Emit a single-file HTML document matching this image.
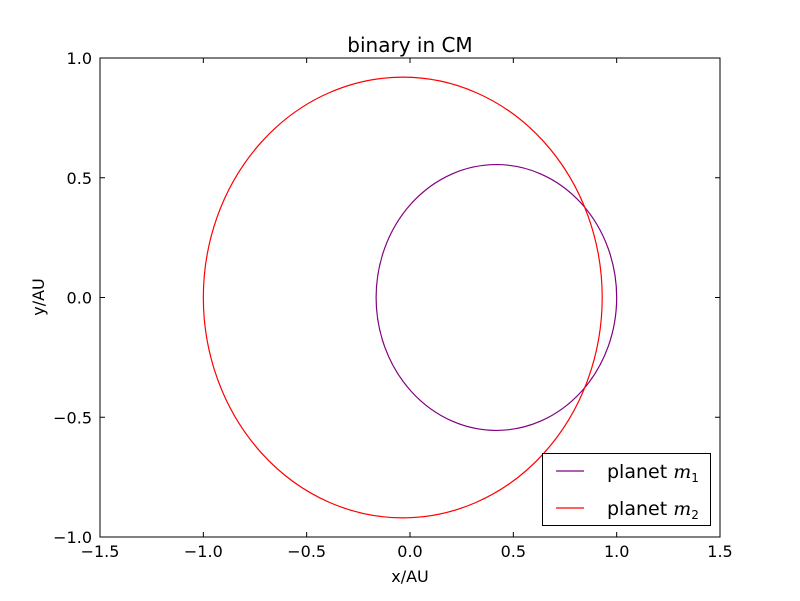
<!DOCTYPE html>
<html><head><meta charset="utf-8"><style>
body{margin:0;background:#fff;}
svg text{font-family:"DejaVu Sans","Liberation Sans",sans-serif;fill:#000;}
</style></head><body>
<svg width="800" height="596" viewBox="0 0 800 596" id="c">
<rect x="0" y="0" width="800" height="596" fill="#fff"/>
<text x="410" y="52" font-size="20" text-anchor="middle">binary in CM</text>
<text x="410" y="582" font-size="16" text-anchor="middle">x/AU</text>
<text x="44" y="297" font-size="16" text-anchor="middle" transform="rotate(-90 44 297)">y/AU</text>
<g id="ticks"></g>
<g id="series"></g>
<rect x="100" y="58" width="620" height="479" fill="none" stroke="#000" stroke-width="1"/>
<g>
<rect x="542.5" y="453.5" width="168" height="72" fill="#fff" stroke="#000"/>
<line x1="556" y1="471" x2="584" y2="471" stroke="#800080" stroke-width="1.2"/>
<text x="607" y="478" font-size="19">planet <tspan font-family="DejaVu Serif,Liberation Serif,serif" font-style="italic">m</tspan><tspan font-size="12" dy="4">1</tspan></text>
<line x1="556" y1="508" x2="584" y2="508" stroke="#ff0000" stroke-width="1.2"/>
<text x="607" y="515" font-size="19">planet <tspan font-family="DejaVu Serif,Liberation Serif,serif" font-style="italic">m</tspan><tspan font-size="12" dy="4">2</tspan></text>
</g>
</svg>
<script>
const xTicks=[-1.5,-1.0,-0.5,0.0,0.5,1.0,1.5];
const yTicks=[-1.0,-0.5,0.0,0.5,1.0];
const seriesNames=["m1","m2"];
const seriesColors=["#800080","#ff0000"];
const orbitCenterX=[0.418,-0.035];
const orbitCenterY=[0.0,0.0];
const orbitSemiX=[0.582,0.965];
const orbitSemiY=[0.555,0.92];
const X0=100,X1=720,Y0=537,Y1=58;
function sx(v){return X0+(v-(-1.5))/3*(X1-X0);}
function sy(v){return Y0-(v-(-1))/2*(Y0-Y1);}
const NS="http://www.w3.org/2000/svg";
const tg=document.getElementById('ticks');
function mk(t,a,p){const e=document.createElementNS(NS,t);for(const k in a)e.setAttribute(k,a[k]);p.appendChild(e);return e;}
function fmt(v){return (v<0?"\u2212":"")+Math.abs(v).toFixed(1);}
xTicks.forEach(v=>{const x=sx(v);
 let l=mk('line',{x1:x,y1:Y0,x2:x,y2:Y0-5,stroke:'#000'},tg);
 
 
 l=mk('line',{x1:x,y1:Y1,x2:x,y2:Y1+5,stroke:'#000'},tg);
 
 
 const t=mk('text',{x:x,y:Y0+20,'font-size':16,'text-anchor':'middle'},tg);t.textContent=fmt(v);
 
 
});
yTicks.forEach(v=>{const y=sy(v);
 let l=mk('line',{x1:X0,y1:y,x2:X0+5,y2:y,stroke:'#000'},tg);
 
 
 l=mk('line',{x1:X1,y1:y,x2:X1-5,y2:y,stroke:'#000'},tg);
 
 
 const t=mk('text',{x:X0-8,y:y+6,'font-size':16,'text-anchor':'end'},tg);t.textContent=fmt(v);
 
 
});
const sg=document.getElementById('series');
seriesNames.forEach((n,i)=>{
 const cx=sx(orbitCenterX[i]),cy=sy(orbitCenterY[i]);
 const rx=sx(orbitCenterX[i]+orbitSemiX[i])-cx, ry=cy-sy(orbitCenterY[i]+orbitSemiY[i]);
 const e=mk('ellipse',{cx:cx,cy:cy,rx:rx,ry:ry,fill:'none',stroke:seriesColors[i],'stroke-width':1.2},sg);
 
 
});
</script>
</body></html>
